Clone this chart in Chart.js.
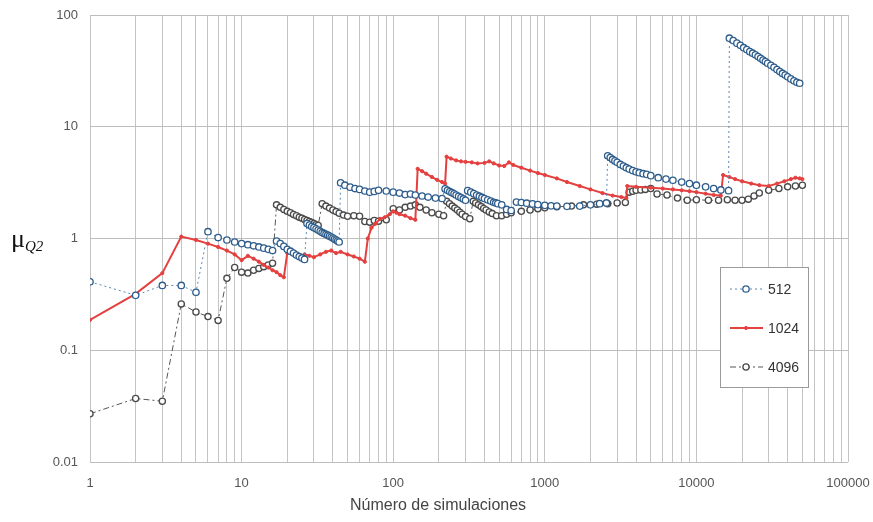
<!DOCTYPE html>
<html>
<head>
<meta charset="utf-8">
<script src="https://cdn.jsdelivr.net/npm/chart.js@4/dist/chart.umd.min.js"></script>
<style>
  body { margin: 0; background: #fff; }
  #wrap { position: relative; width: 873px; height: 522px; }
  #ylabel { position: absolute; left: 11px; top: 224px; font-family: 'Liberation Serif', serif; font-size: 26px; color: #111; }
  #ylabel sub { font-style: italic; font-size: 15px; vertical-align: -4px; }
  #xlabel { position: absolute; left: 350px; top: 496px; font-family: 'Liberation Sans', Arial, sans-serif; font-size: 16px; color: #444; }
</style>
</head>
<body>
<div id="wrap">
  <canvas id="chart" width="873" height="522"></canvas>
  <div id="ylabel">μ<sub>Q2</sub></div>
  <div id="xlabel">Número de simulaciones</div>
</div>
<script>
// 512 simulaciones
const n512 = [1, 2, 3, 4, 5, 6, 7, 8, 9, 10, 11, 12, 13, 14, 15, 16,
  17, 18, 19, 20, 21, 22, 23, 24, 25, 26,
  27, 28, 29, 30, 31, 32, 33, 34, 35, 36, 37, 38, 39, 40, 41, 42, 43, 44,
  45, 48, 52, 56, 60, 65, 70, 75, 80, 90, 100, 110, 120, 130, 140, 155, 170, 190, 210,
  220, 228, 236, 244, 252, 260, 270, 280, 290, 300,
  310, 325, 340, 355, 370, 385, 400, 420, 440, 460, 475, 490,
  520, 560, 600, 650, 700, 760, 830, 900, 1000, 1100, 1200, 1400, 1700, 2000, 2300, 2550,
  2600, 2700, 2800, 2900, 3000, 3150, 3300, 3450, 3600, 3800, 4000, 4200, 4450, 4700,
  5000, 5600, 6300, 7000, 8000, 9000, 10000, 11500, 13000, 14500, 16300,
  16500, 17500, 18500, 19500, 20500, 21500, 22500, 23500, 24500, 25500,
  26500, 27500, 28500, 29500, 31000, 32500, 34000, 35500, 37000, 38500,
  40000, 42000, 44000, 46000, 48000];
const mu512 = [0.41, 0.31, 0.38, 0.38, 0.33, 1.15, 1.02, 0.97, 0.93, 0.9, 0.88, 0.86, 0.84, 0.82, 0.8, 0.78,
  0.95, 0.9, 0.85, 0.8, 0.77, 0.74, 0.71, 0.69, 0.67, 0.65,
  1.36, 1.32, 1.28, 1.25, 1.22, 1.19, 1.16, 1.13, 1.11, 1.09, 1.07, 1.05, 1.03, 1.01, 0.99, 0.97, 0.95, 0.93,
  3.15, 3.0, 2.88, 2.8, 2.75, 2.66, 2.6, 2.64, 2.7, 2.66, 2.6, 2.55, 2.47, 2.5, 2.45, 2.4, 2.35, 2.3, 2.28,
  2.78, 2.7, 2.63, 2.57, 2.51, 2.45, 2.38, 2.32, 2.26, 2.2,
  2.68, 2.6, 2.52, 2.45, 2.39, 2.33, 2.28, 2.22, 2.16, 2.11, 2.08, 2.05,
  2.0, 1.82, 1.78, 2.12, 2.1, 2.07, 2.04, 2.01, 1.98, 1.96, 1.95, 1.94, 1.95, 2.0, 2.05, 2.08,
  5.5, 5.3, 5.1, 4.95, 4.8, 4.6, 4.45, 4.3, 4.18, 4.05, 3.95, 3.88, 3.8, 3.75,
  3.65, 3.5, 3.4, 3.32, 3.2, 3.1, 3.0, 2.9, 2.8, 2.72, 2.68,
  62, 59, 56, 53.5, 51, 49, 47, 45.5, 44, 42.5,
  41, 39.5, 38.3, 37, 35.5, 34, 32.5, 31.2, 30, 29,
  28, 26.8, 25.8, 25, 24.5];

// 1024 simulaciones
const n1024 = [1, 2, 3, 4, 5, 6, 7, 8, 9, 10, 11, 12, 13, 14, 15, 16, 17, 18, 19,
  20, 22, 24, 26, 28, 30, 33, 36, 39, 42, 45, 50, 55, 60, 65,
  68, 72, 76, 82, 88, 95, 100, 105, 110, 120, 130, 140,
  145, 155, 165, 180, 195, 210, 220,
  225, 240, 260, 280, 300, 330, 360, 400, 430, 460,
  500, 540, 580, 620, 700, 800, 900, 1000, 1200, 1400,
  1700, 2000, 2400, 2800, 3200, 3450,
  3500, 4000, 5000, 6000, 7000, 8000, 9000, 10000, 11500, 13000, 14500,
  15000, 16500, 18000, 20000, 23000, 26000, 30000, 34000, 38000, 42000, 45000, 48000, 50000];
const mu1024 = [0.187, 0.32, 0.49, 1.04, 0.97, 0.9, 0.84, 0.78, 0.72, 0.64, 0.7, 0.66, 0.62, 0.58, 0.55, 0.52, 0.5, 0.47, 0.45,
  0.74, 0.72, 0.68, 0.72, 0.7, 0.68, 0.72, 0.76, 0.78, 0.74, 0.76, 0.72, 0.69, 0.66, 0.62,
  1.0, 1.25, 1.35, 1.5, 1.55, 1.65, 1.75, 1.7, 1.65, 1.6, 1.52, 1.47,
  4.2, 4.0, 3.8, 3.55, 3.35, 3.2, 3.1,
  5.4, 5.2, 5.0, 4.9, 4.85, 4.8, 4.7, 4.75, 4.9, 4.7,
  4.5, 4.45, 4.8, 4.55, 4.3, 4.05, 3.85, 3.7, 3.45, 3.2,
  2.95, 2.75, 2.55, 2.42, 2.35, 2.3,
  2.95, 2.9, 2.85, 2.8, 2.75, 2.7, 2.65, 2.6, 2.52, 2.45, 2.42,
  3.7, 3.55, 3.4, 3.25, 3.1, 3.0, 2.95, 3.1, 3.25, 3.4, 3.5, 3.45, 3.4];

// 4096 simulaciones
const n4096 = [1, 2, 3, 4, 5, 6, 7, 8, 9, 10, 11, 12, 13, 14, 15, 16,
  17, 18, 19, 20, 21, 22, 23, 24, 25, 26, 27, 28, 29, 30, 31, 32,
  34, 36, 38, 40, 42, 44, 47, 50, 55, 60, 65, 70, 75, 80, 90,
  100, 110, 120, 130, 140, 150, 165, 180, 200, 215,
  225, 235, 245, 255, 265, 275, 285, 300, 320,
  337, 350, 365, 380, 395, 410, 430, 450, 480,
  520, 560, 600, 700, 800, 900, 1000, 1200, 1500, 1800, 2200, 2600, 3000, 3400,
  3600, 3800, 4000, 4300, 4600, 5000,
  5500, 6400, 7500, 8700, 10000, 12000, 14000, 16000, 18000, 20000,
  22000, 24000, 26000, 30000, 35000, 40000, 45000, 50000];
const mu4096 = [0.027, 0.037, 0.035, 0.26, 0.22, 0.2, 0.185, 0.44, 0.55, 0.5, 0.49, 0.52, 0.54, 0.56, 0.58, 0.6,
  2.0, 1.9, 1.82, 1.75, 1.7, 1.64, 1.6, 1.55, 1.52, 1.48, 1.45, 1.42, 1.39, 1.36, 1.33, 1.31,
  2.05, 1.95, 1.87, 1.8, 1.74, 1.68, 1.62, 1.58, 1.6, 1.58, 1.42, 1.4, 1.45, 1.43, 1.47,
  1.85, 1.8, 1.9, 1.95, 2.0, 1.9, 1.8, 1.7, 1.65, 1.6,
  2.15, 2.05, 1.95, 1.87, 1.8, 1.72, 1.65, 1.57, 1.5,
  2.15, 2.08, 2.0, 1.93, 1.86, 1.8, 1.73, 1.67, 1.6,
  1.6, 1.65, 1.7, 1.75, 1.8, 1.85, 1.88, 1.92, 1.95, 2.0, 2.03, 2.05, 2.08, 2.1,
  2.6, 2.65, 2.7, 2.72, 2.75, 2.8,
  2.5, 2.45, 2.3, 2.2, 2.22, 2.2, 2.2, 2.22, 2.2, 2.2,
  2.25, 2.4, 2.55, 2.7, 2.8, 2.9, 2.95, 3.0];

const decadeLabels = [1, 10, 100, 1000, 10000, 100000];
const yTicks = [0.01, 0.1, 1, 10, 100];

// vertical grid at 1..9 of every decade
const xGrid = [];
decadeLabels.forEach(d => {
  for (let k = 1; k <= 9; k++) {
    if (d * k <= 100000) xGrid.push(d * k);
  }
});

function pts(xs, ys) {
  return xs.map((x, i) => ({ x: x, y: ys[i] }));
}

// legend drawn in a box inside the plot area
const boxLegend = {
  id: 'boxLegend',
  afterDatasetsDraw(chart) {
    const ctx = chart.ctx;
    ctx.save();
    ctx.fillStyle = '#fff';
    ctx.strokeStyle = '#9a9a9a';
    ctx.lineWidth = 1;
    ctx.fillRect(720.5, 267.5, 88, 120);
    ctx.strokeRect(720.5, 267.5, 88, 120);
    chart.data.datasets.forEach((ds, i) => {
      const y = 289 + i * 39;
      ctx.strokeStyle = ds.borderColor;
      ctx.lineWidth = ds.borderWidth;
      ctx.setLineDash(ds.borderDash || []);
      ctx.beginPath();
      ctx.moveTo(730, y);
      ctx.lineTo(763, y);
      ctx.stroke();
      ctx.setLineDash([]);
      ctx.beginPath();
      ctx.arc(746, y, ds.pointRadius, 0, Math.PI * 2);
      ctx.fillStyle = ds.pointBackgroundColor;
      ctx.fill();
      ctx.strokeStyle = ds.pointBorderColor;
      ctx.lineWidth = ds.pointBorderWidth;
      ctx.stroke();
      ctx.fillStyle = '#333';
      ctx.font = '14px "Liberation Sans", Arial, sans-serif';
      ctx.textBaseline = 'middle';
      ctx.fillText(ds.label, 768, y + 1);
    });
    ctx.restore();
  }
};

const tickFont = { family: '"Liberation Sans", Arial, sans-serif', size: 13 };

new Chart(document.getElementById('chart'), {
  type: 'scatter',
  data: {
    datasets: [
      {
        label: '512',
        data: pts(n512, mu512),
        showLine: true,
        borderColor: '#5a86b4',
        borderWidth: 1,
        borderDash: [2, 3],
        pointRadius: 3.2,
        pointBorderColor: '#2e5d8c',
        pointBackgroundColor: '#ffffff',
        pointBorderWidth: 1.3
      },
      {
        label: '1024',
        data: pts(n1024, mu1024),
        showLine: true,
        borderColor: '#e4403f',
        borderWidth: 2,
        pointRadius: 1.6,
        pointBorderColor: '#e4403f',
        pointBackgroundColor: '#e4403f',
        pointBorderWidth: 1
      },
      {
        label: '4096',
        data: pts(n4096, mu4096),
        showLine: true,
        borderColor: '#555555',
        borderWidth: 1,
        borderDash: [6, 3, 2, 3],
        pointRadius: 3.1,
        pointBorderColor: '#4a4a4a',
        pointBackgroundColor: '#ffffff',
        pointBorderWidth: 1.3
      }
    ]
  },
  options: {
    responsive: false,
    animation: false,
    events: [],
    layout: { padding: { left: 0, right: 25, top: 15, bottom: 0 } },
    plugins: {
      legend: { display: false },
      tooltip: { enabled: false }
    },
    scales: {
      x: {
        type: 'logarithmic',
        min: 1,
        max: 100000,
        afterBuildTicks(scale) { scale.ticks = xGrid.map(v => ({ value: v })); },
        afterFit(scale) {
          scale.height = 60;
          scale.paddingLeft = 0;
          scale.paddingRight = 0;
        },
        grid: { color: '#c4c4c4', drawTicks: false },
        border: { display: false },
        ticks: {
          autoSkip: false,
          maxRotation: 0,
          padding: 14,
          color: '#555',
          font: tickFont,
          callback: v => decadeLabels.includes(v) ? String(v) : ''
        }
      },
      y: {
        type: 'logarithmic',
        min: 0.01,
        max: 100,
        afterBuildTicks(scale) { scale.ticks = yTicks.map(v => ({ value: v })); },
        afterFit(scale) {
          scale.width = 90;
          scale.paddingTop = 0;
          scale.paddingBottom = 0;
        },
        grid: { color: '#bdbdbd', drawTicks: false },
        border: { display: false },
        ticks: {
          padding: 12,
          color: '#555',
          font: tickFont,
          callback: v => String(v)
        }
      }
    }
  },
  plugins: [boxLegend]
});
</script>
</body>
</html>
